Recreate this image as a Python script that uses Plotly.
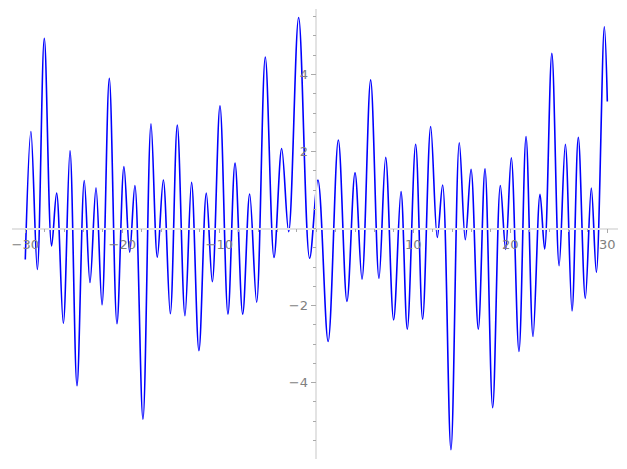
import plotly.graph_objects as go

# extrema of the curve (x, y)
x_vals = [-30.0, -29.42, -28.76, -28.04, -27.29, -26.77, -26.08, -25.39, -24.67, -23.92,
          -23.33, -22.71, -22.09, -21.34, -20.55, -19.83, -19.24, -18.70, -17.87, -17.04,
          -16.39, -15.77, -15.05, -14.33, -13.54, -12.86, -12.10, -11.34, -10.72, -9.93,
          -9.11, -8.38, -7.59, -6.87, -6.15, -5.26, -4.36, -3.57, -2.85, -1.82,
          -0.69, 0.17, 1.22, 2.27, 3.16, 3.99, 4.71, 5.60, 6.46, 7.15,
          7.97, 8.73, 9.38, 10.24, 10.96, 11.79, 12.47, 13.02, 13.88, 14.74,
          15.36, 15.95, 16.70, 17.39, 18.18, 18.97, 19.52, 20.10, 20.89, 21.62,
          22.34, 23.06, 23.54, 24.28, 25.03, 25.67, 26.36, 27.01, 27.73, 28.35,
          28.87, 29.69, 30.0]
y_vals = [-0.80, 2.52, -1.06, 4.94, -0.45, 0.92, -2.46, 2.02, -4.08, 1.25,
          -1.40, 1.06, -1.98, 3.90, -2.47, 1.61, -0.61, 1.12, -4.95, 2.72,
          -0.74, 1.26, -2.21, 2.69, -2.26, 1.20, -3.17, 0.92, -1.38, 3.19,
          -2.22, 1.70, -2.22, 0.90, -1.91, 4.45, -0.75, 2.08, -0.08, 5.48,
          -0.77, 1.26, -2.93, 2.30, -1.89, 1.45, -1.31, 3.86, -1.29, 1.85,
          -2.37, 0.96, -2.61, 2.19, -2.35, 2.65, -0.23, 1.13, -5.74, 2.23,
          -0.29, 1.54, -2.61, 1.55, -4.65, 1.12, -0.54, 1.84, -3.19, 2.39,
          -2.80, 0.89, -0.53, 4.55, -0.96, 2.19, -2.14, 2.37, -1.81, 1.05,
          -1.13, 5.24, 3.3]

x_ticks = [-30, -20, -10, 10, 20, 30]
x_labels = ["\u221230", "\u221220", "\u221210", "10", "20", "30"]
y_ticks = [-4, -2, 2, 4]
y_labels = ["\u22124", "\u22122", "2", "4"]

x_range = [-31.37, 31.10]
y_range = [-5.98, 5.70]

fig = go.Figure()
fig.add_trace(go.Scatter(x=x_vals, y=y_vals, mode="lines",
                         line=dict(color="#0000ff", width=1.6, shape="spline", smoothing=1.0),
                         hoverinfo="skip", showlegend=False))

tick_font = dict(family="DejaVu Sans", size=13, color="#808080")
x_pos = (0 - y_range[0]) / (y_range[1] - y_range[0])
y_pos = (0 - x_range[0]) / (x_range[1] - x_range[0])

# the page body adds an 8px offset, so the figure is made 8px smaller and margins compensated
fig.update_layout(
    width=619, height=461,
    margin=dict(l=4, r=9, t=1, b=10, autoexpand=False),
    paper_bgcolor="white", plot_bgcolor="white",
    xaxis=dict(range=x_range, showgrid=False, zeroline=False, showline=True,
               linecolor="#e3e3e3", linewidth=1.5, anchor="free", position=x_pos,
               automargin=False,
               tickmode="array", tickvals=x_ticks, ticktext=x_labels,
               ticks="outside", ticklen=4, tickcolor="#aaaaaa", tickwidth=1,
               tickfont=tick_font,
               minor=dict(dtick=2, tick0=0, ticks="outside", ticklen=3,
                          tickcolor="#aaaaaa", tickwidth=1)),
    yaxis=dict(range=y_range, showgrid=False, zeroline=False, showline=True,
               linecolor="#e3e3e3", linewidth=1.5, anchor="free", position=y_pos,
               automargin=False,
               tickmode="array", tickvals=y_ticks, ticktext=y_labels,
               ticks="outside", ticklen=5, tickcolor="#aaaaaa", tickwidth=1,
               tickfont=tick_font,
               minor=dict(dtick=0.5, tick0=0, ticks="outside", ticklen=3,
                          tickcolor="#aaaaaa", tickwidth=1)),
)

fig.write_html("out.html")
